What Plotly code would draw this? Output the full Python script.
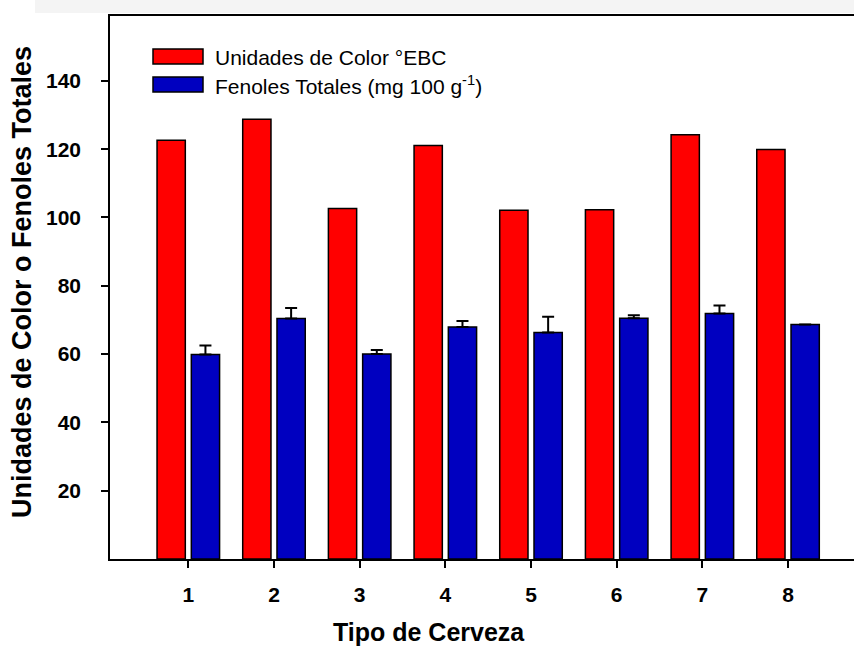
import plotly.graph_objects as go

tipos = [1, 2, 3, 4, 5, 6, 7, 8]
color_ebc = [122.6, 128.8, 102.6, 121.1, 102.1, 102.3, 124.2, 119.9]
fenoles = [59.9, 70.4, 60.0, 67.9, 66.3, 70.5, 71.9, 68.7]
fenoles_err = [2.6, 3.1, 1.2, 1.8, 4.6, 0.9, 2.3, 0.0]
ytick_vals = [20, 40, 60, 80, 100, 120, 140]
legend_names = ["Unidades de Color °EBC", "Fenoles Totales (mg 100 g<sup>-1</sup>)"]
red = "#FF0000"
blue = "#0000C0"

FONT = "Arial, Liberation Sans, Helvetica, sans-serif"
W, H = 854, 648
L, R, T, B = 110, 0, 16, 89
pw, ph = W - L - R, H - T - B


def px_x(x):
    return (x - L) / pw


def px_y(y):
    return (H - B - y) / ph


fig = go.Figure()
fig.add_trace(go.Bar(
    x=tipos, y=color_ebc, width=0.33, offset=-0.365,
    marker=dict(color=red, line=dict(color="black", width=1.5)),
    name=legend_names[0], showlegend=False,
))
fig.add_trace(go.Bar(
    x=tipos, y=fenoles, width=0.33, offset=0.035,
    marker=dict(color=blue, line=dict(color="black", width=1.5)),
    error_y=dict(type="data", symmetric=False, array=fenoles_err,
                 arrayminus=[0] * len(fenoles_err),
                 color="black", thickness=2, width=6),
    name=legend_names[1], showlegend=False,
))

shapes = []
annotations = []
# light screenshot shadow band at top
shapes.append(dict(type="rect", xref="paper", yref="paper",
                   x0=px_x(35), x1=px_x(854), y0=px_y(13), y1=px_y(0),
                   fillcolor="#f4f4f4", line=dict(width=0), layer="below"))
# legend swatches
sw = [(49, 64, red), (77, 92, blue)]
text_y = [57, 85]
for (y0, y1, c), ty, name in zip(sw, text_y, legend_names):
    shapes.append(dict(type="rect", xref="paper", yref="paper",
                       x0=px_x(153), x1=px_x(203), y0=px_y(y1), y1=px_y(y0),
                       fillcolor=c, line=dict(color="black", width=1.5)))
    annotations.append(dict(xref="paper", yref="paper", x=px_x(213), y=px_y(ty),
                            xanchor="left", yanchor="middle", showarrow=False,
                            text=name, font=dict(family=FONT, size=21, color="black")))
# axis titles
annotations.append(dict(xref="paper", yref="paper", x=px_x(429), y=px_y(632),
                        xanchor="center", yanchor="middle", showarrow=False,
                        text="Tipo de Cerveza",
                        font=dict(family=FONT, size=25, color="black", weight="bold")))
annotations.append(dict(xref="paper", yref="paper", x=px_x(22), y=px_y(282),
                        xanchor="center", yanchor="middle", showarrow=False,
                        textangle=-90, text="Unidades de Color o Fenoles Totales",
                        font=dict(family=FONT, size=27, color="black", weight="bold")))

tickfont = dict(family=FONT, size=21, color="black", weight="bold")
fig.update_layout(
    width=W, height=H,
    margin=dict(l=L, r=R, t=T, b=B, pad=0),
    paper_bgcolor="white", plot_bgcolor="white",
    barmode="overlay",
    showlegend=False,
    shapes=shapes,
    annotations=annotations,
    xaxis=dict(range=[0.086, 8.77], tickvals=tipos, ticktext=[str(t) for t in tipos],
               showline=True, linecolor="black", linewidth=1.5, mirror=True,
               ticks="outside", ticklen=7, tickwidth=1.5, tickcolor="black",
               showgrid=False, zeroline=False, ticklabelstandoff=9,
               tickfont=tickfont),
    yaxis=dict(range=[0, 159], tickvals=ytick_vals,
               showline=True, linecolor="black", linewidth=1.5, mirror=False,
               ticks="outside", ticklen=7, tickwidth=1.5, tickcolor="black",
               showgrid=False, zeroline=False, ticklabelstandoff=16,
               tickfont=tickfont),
)

fig.write_html("out.html")
